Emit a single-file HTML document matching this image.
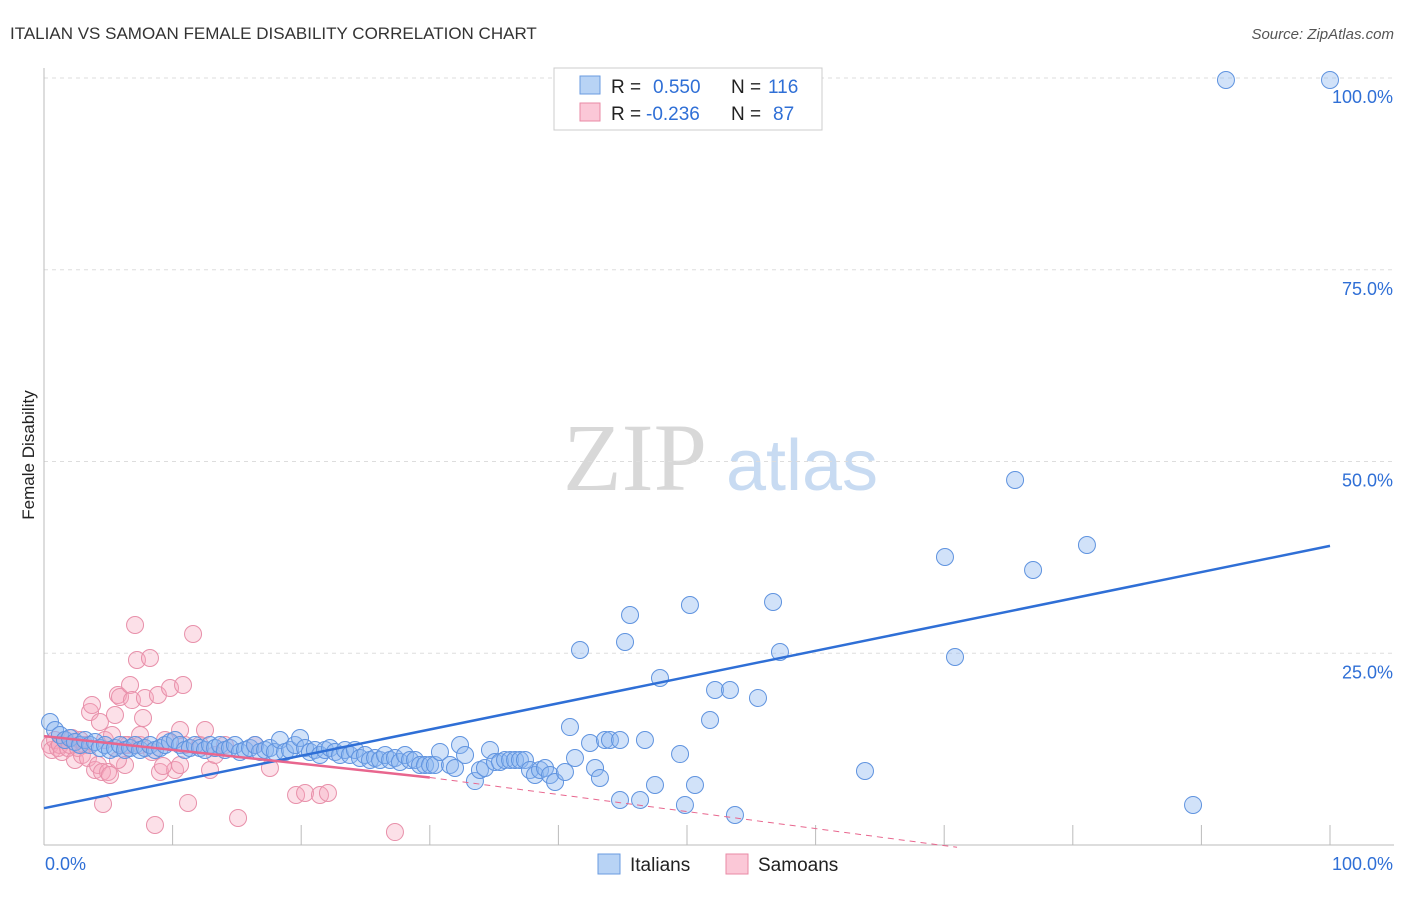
<!DOCTYPE html>
<html><head><meta charset="utf-8"><style>
body{margin:0;background:#fff;width:1406px;height:892px;overflow:hidden;font-family:"Liberation Sans",sans-serif}
</style></head><body>
<svg width="1406" height="892">
<text x="10" y="39" font-size="17" fill="#333">ITALIAN VS SAMOAN FEMALE DISABILITY CORRELATION CHART</text>
<text x="1394" y="39" font-size="15" fill="#555" font-style="italic" text-anchor="end">Source: ZipAtlas.com</text>
<g><text x="635" y="490" font-size="96" fill="#d8d8d8" font-family="Liberation Serif,serif" text-anchor="middle">ZIP</text><text x="802" y="490" font-size="72" fill="#c8dbf2" text-anchor="middle">atlas</text></g>
<g id="grid"></g><g id="axes"></g><g id="pts"></g><g id="lines"></g>
<text transform="translate(34,455) rotate(-90)" font-size="17" fill="#222" text-anchor="middle">Female Disability</text>
<g>
<rect x="554" y="68" width="268" height="62" fill="#fff" stroke="#ccc"/>
<rect x="580" y="76" width="20" height="18" fill="#b8d3f5" stroke="#6a9be0"/>
<rect x="580" y="103" width="20" height="18" fill="#fbc8d7" stroke="#e88aa6"/>
<text x="611" y="93" font-size="19" fill="#222">R =</text>
<text x="653" y="93" font-size="19" fill="#2f6fd6">0.550</text>
<text x="731" y="93" font-size="19" fill="#222">N =</text>
<text x="768" y="93" font-size="19" fill="#2f6fd6">116</text>
<text x="611" y="120" font-size="19" fill="#222">R =</text>
<text x="646" y="120" font-size="19" fill="#2f6fd6">-0.236</text>
<text x="731" y="120" font-size="19" fill="#222">N =</text>
<text x="773" y="120" font-size="19" fill="#2f6fd6">87</text>
</g>
<g>
<rect x="598" y="854" width="22" height="20" fill="#b8d3f5" stroke="#6a9be0"/><text x="630" y="871" font-size="19" fill="#222">Italians</text>
<rect x="726" y="854" width="22" height="20" fill="#fbc8d7" stroke="#e88aa6"/><text x="758" y="871" font-size="19" fill="#222">Samoans</text>
</g>
</svg>
<script>
const NS="http://www.w3.org/2000/svg";
const yTicks=[25,50,75,100];
const yTickLabels=["25.0%","50.0%","75.0%","100.0%"];
const xTicks=[0,10,20,30,40,50,60,70,80,90,100];
const bluePx=[[50,722],[55,730],[60,735],[65,740],[70,738],[75,742],[80,745],[85,740],[90,745],[95,742],[100,748],[105,745],[110,750],[115,748],[120,745],[125,750],[130,748],[135,745],[140,750],[145,748],[150,745],[155,750],[160,748],[165,745],[170,742],[175,740],[180,745],[185,750],[190,748],[195,745],[200,748],[205,750],[210,745],[215,748],[220,745],[225,750],[230,748],[235,745],[240,752],[245,750],[250,748],[255,745],[260,752],[265,750],[270,748],[275,752],[280,740],[285,752],[290,750],[295,745],[300,738],[305,748],[310,752],[315,750],[320,755],[325,750],[330,748],[335,752],[340,755],[345,750],[350,755],[355,750],[360,758],[365,755],[370,760],[375,758],[380,760],[385,755],[390,760],[395,758],[400,762],[405,755],[410,760],[415,760],[420,765],[425,765],[430,765],[435,765],[440,752],[450,765],[455,768],[460,745],[465,755],[475,781],[480,770],[485,768],[490,750],[495,762],[500,762],[505,760],[510,760],[515,760],[520,760],[525,760],[530,770],[535,775],[540,770],[545,768],[550,775],[555,782],[565,772],[570,727],[575,758],[580,650],[590,743],[595,768],[600,778],[605,740],[610,740],[620,740],[620,800],[625,642],[630,615],[640,800],[645,740],[655,785],[660,678],[680,754],[685,805],[690,605],[695,785],[710,720],[715,690],[730,690],[735,815],[758,698],[773,602],[780,652],[865,771],[945,557],[955,657],[1015,480],[1033,570],[1087,545],[1193,805],[1226,80],[1330,80]];
const pinkPx=[[50,745],[52,750],[55,740],[58,748],[60,745],[62,752],[65,740],[68,748],[70,745],[72,738],[75,760],[78,748],[80,740],[82,755],[85,745],[88,758],[90,712],[92,705],[95,770],[98,765],[100,722],[102,772],[105,740],[108,772],[110,775],[112,735],[115,715],[118,695],[120,697],[125,765],[128,745],[130,685],[132,700],[135,625],[137,660],[140,745],[143,718],[145,698],[150,658],[152,752],[155,825],[158,695],[160,772],[165,740],[170,688],[175,770],[180,765],[183,685],[185,745],[188,803],[193,634],[200,745],[205,730],[210,770],[215,755],[225,745],[238,818],[255,745],[270,768],[296,795],[305,793],[320,795],[328,793],[395,832],[103,804],[163,766],[180,730],[118,760],[125,745],[140,735]];
const italianX=bluePx.map(p=>+((p[0]-44)/12.86).toFixed(2));
const italianY=bluePx.map(p=>+((845-p[1])/7.67).toFixed(2));
const samoanX=pinkPx.map(p=>+((p[0]-44)/12.86).toFixed(2));
const samoanY=pinkPx.map(p=>+((845-p[1])/7.67).toFixed(2));
const blueTrend=[4.8,39.0];
const pinkTrend=[14.2,8.8,-0.3];
function sx(v){return 44+v*12.86}
function sy(v){return 845-v*7.67}
function mk(tag,attrs,parent){const e=document.createElementNS(NS,tag);for(const k in attrs)e.setAttribute(k,attrs[k]);document.getElementById(parent).appendChild(e);return e}
yTicks.forEach((t,i)=>{
 const l=mk('line',{x1:44,x2:1394,y1:sy(t),y2:sy(t),stroke:'#ddd','stroke-dasharray':'4,4'},'grid');
 
 
 const tx=mk('text',{x:1393,y:sy(t)+25,'font-size':18,fill:'#2f6fd6','text-anchor':'end'},'grid');
 tx.textContent=yTickLabels[i];
 
 
});
mk('line',{x1:44,x2:44,y1:68,y2:845,stroke:'#bbb'},'axes');
mk('line',{x1:44,x2:1394,y1:845,y2:845,stroke:'#bbb'},'axes');
xTicks.forEach(t=>{const l=mk('line',{x1:sx(t),x2:sx(t),y1:825,y2:845,stroke:'#bbb'},'axes');
 
 });
const xl0=mk('text',{x:45,y:870,'font-size':18,fill:'#2f6fd6'},'axes');xl0.textContent='0.0%';


const xl1=mk('text',{x:1393,y:870,'font-size':18,fill:'#2f6fd6','text-anchor':'end'},'axes');xl1.textContent='100.0%';


samoanX.forEach((x,i)=>{const c=mk('circle',{cx:sx(x),cy:sy(samoanY[i]),r:8.5,fill:'rgba(246,165,190,0.35)',stroke:'#e890aa','stroke-width':1},'pts');
 
 });
italianX.forEach((x,i)=>{const c=mk('circle',{cx:sx(x),cy:sy(italianY[i]),r:8.5,fill:'rgba(140,182,240,0.4)',stroke:'#5f93df','stroke-width':1},'pts');
 
 });
const bl=mk('line',{x1:sx(0),y1:sy(blueTrend[0]),x2:sx(100),y2:sy(blueTrend[1]),stroke:'#2f6fd6','stroke-width':2.5},'lines');


const pl=mk('line',{x1:sx(0),y1:sy(pinkTrend[0]),x2:sx(30),y2:sy(pinkTrend[1]),stroke:'#e8668e','stroke-width':2.5},'lines');


const pd=mk('line',{x1:sx(30),y1:sy(pinkTrend[1]),x2:sx(71),y2:sy(pinkTrend[2]),stroke:'#e8668e','stroke-width':1,'stroke-dasharray':'6,5'},'lines');


</script>
</body></html>
